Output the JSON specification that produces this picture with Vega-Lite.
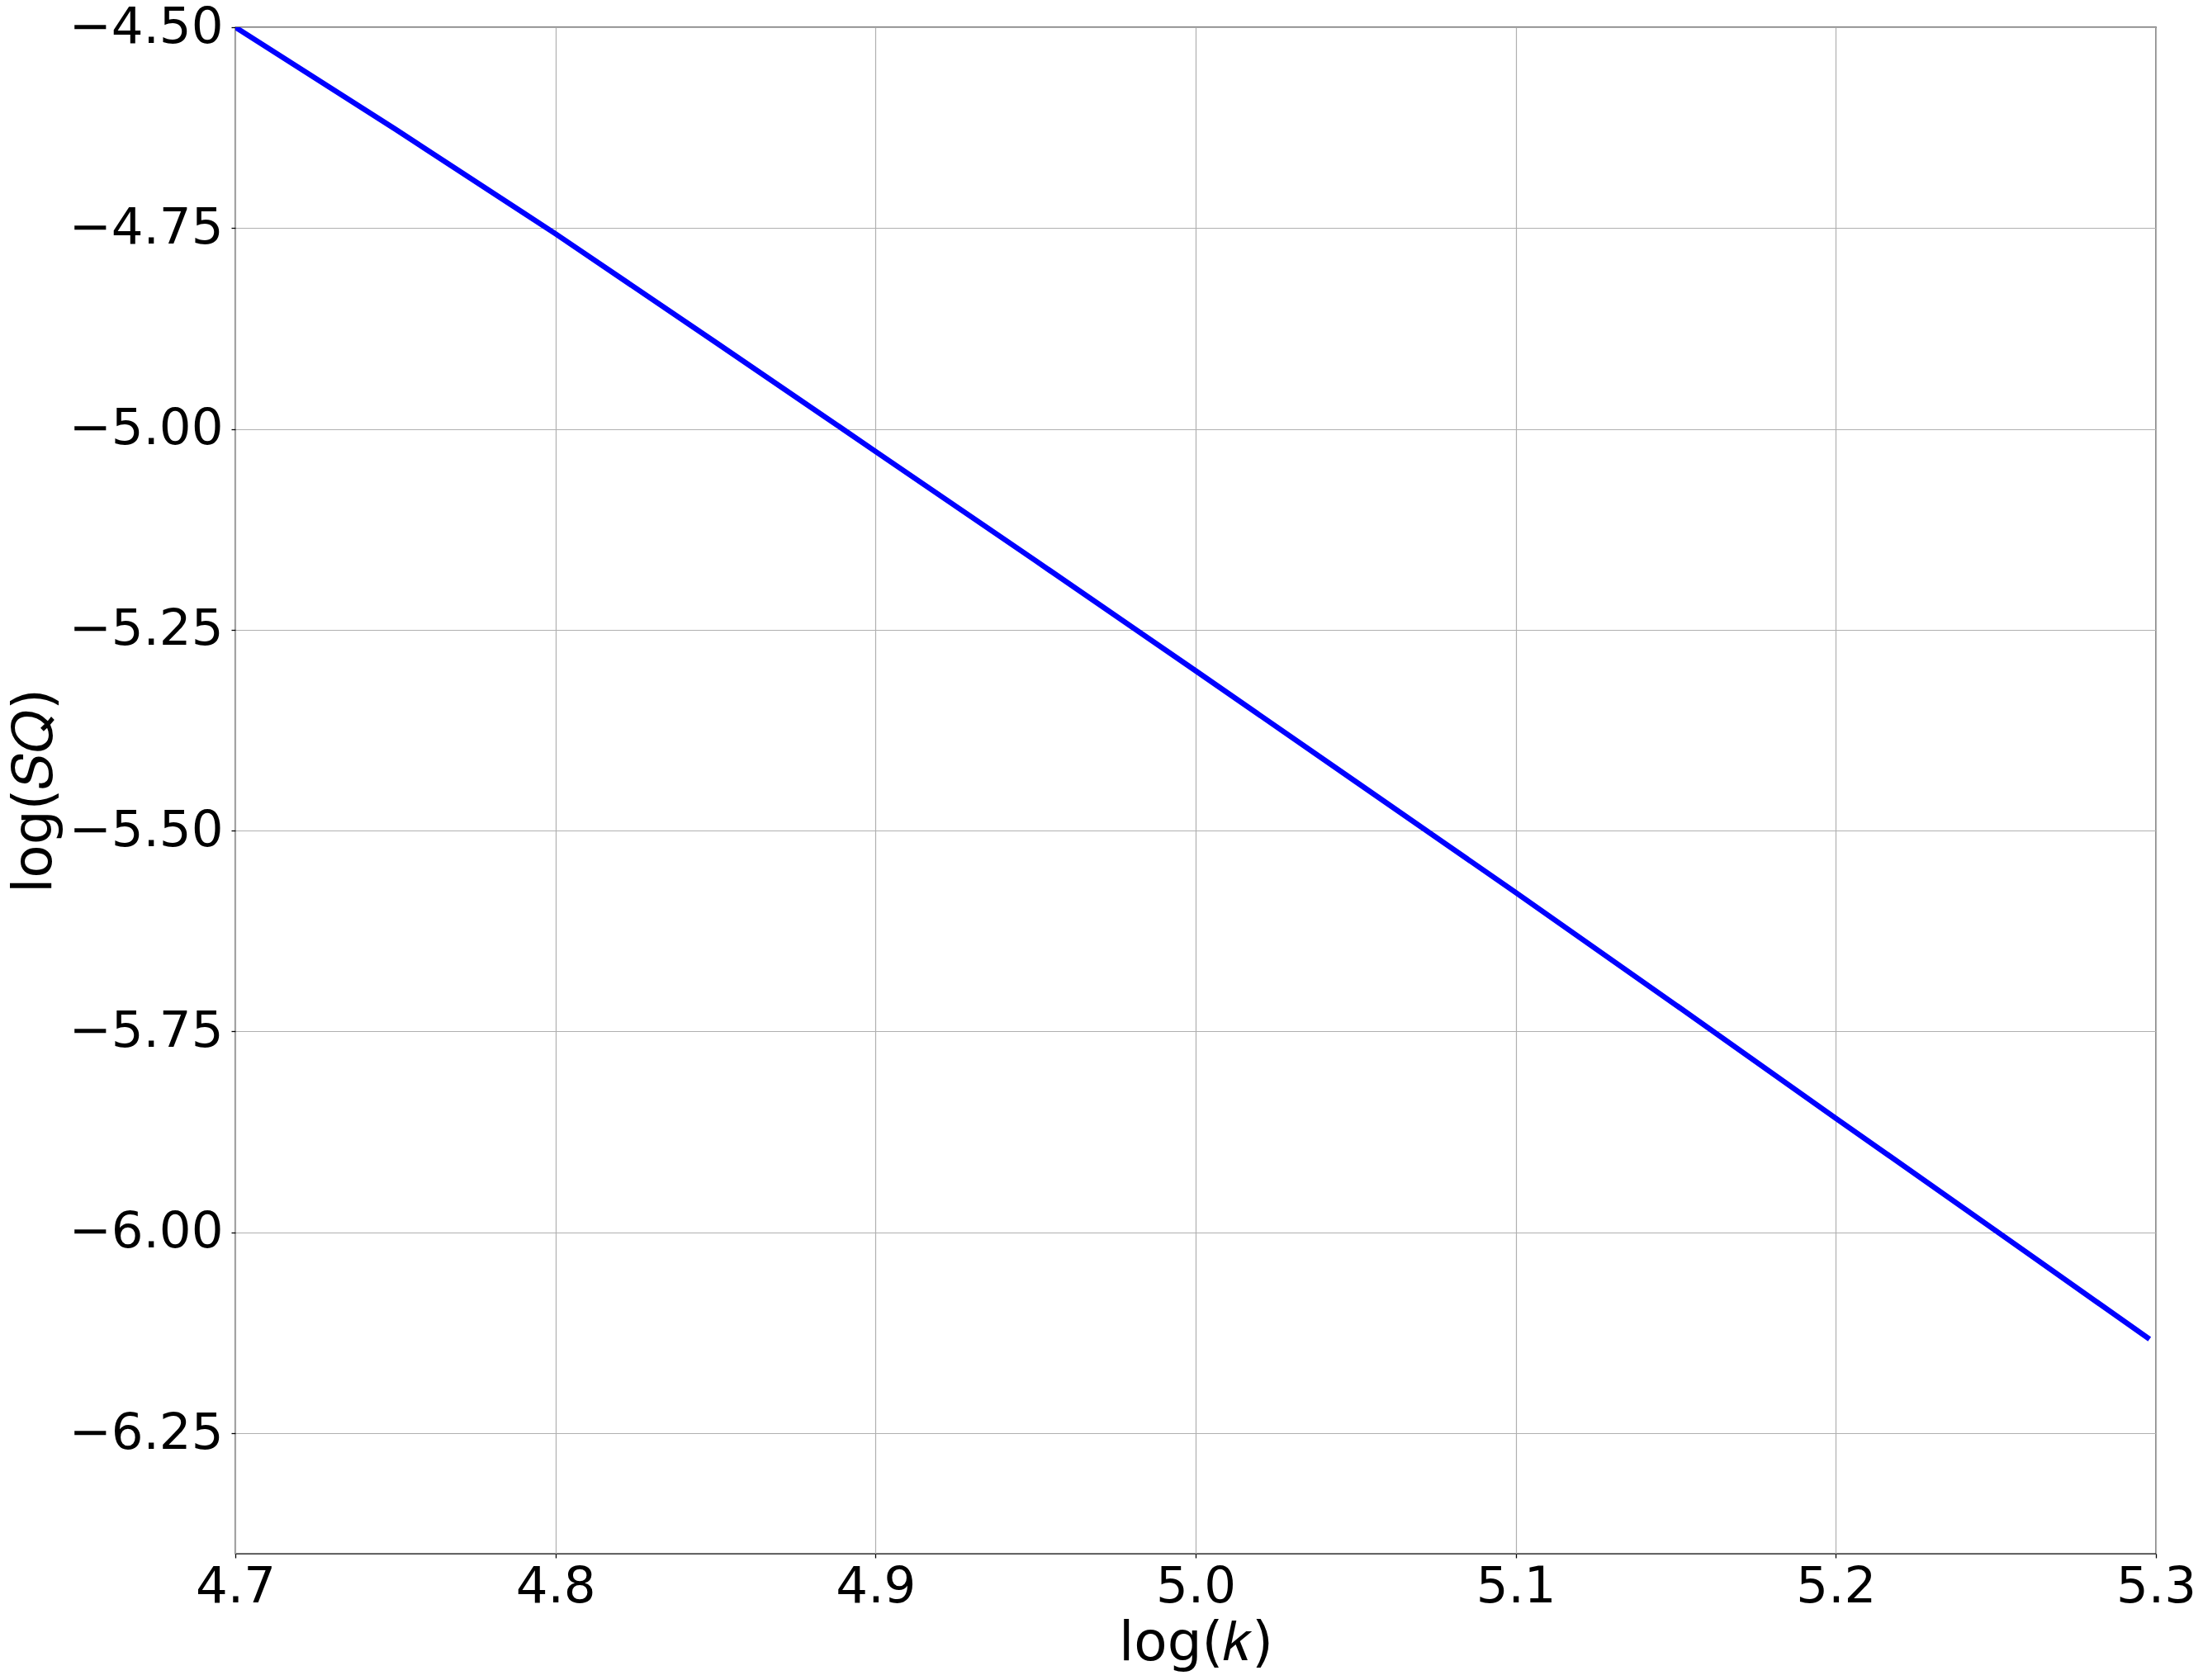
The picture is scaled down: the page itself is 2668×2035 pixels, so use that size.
{
  "$schema": "https://vega.github.io/schema/vega-lite/v6.json",
  "autosize": "none",
  "width": 2326,
  "height": 1849,
  "padding": {"left": 285, "top": 33, "right": 57, "bottom": 153},
  "background": "white",
  "config": {
    "view": {"stroke": "black", "strokeWidth": 1.3},
    "font": "DejaVu Sans"
  },
  "data": {
    "values": [
      {"logk": 4.70, "logSQ": -4.500},
      {"logk": 4.75, "logSQ": -4.627},
      {"logk": 4.80, "logSQ": -4.757},
      {"logk": 4.85, "logSQ": -4.892},
      {"logk": 4.90, "logSQ": -5.028},
      {"logk": 4.95, "logSQ": -5.164},
      {"logk": 5.00, "logSQ": -5.301},
      {"logk": 5.05, "logSQ": -5.439},
      {"logk": 5.10, "logSQ": -5.577},
      {"logk": 5.15, "logSQ": -5.717},
      {"logk": 5.20, "logSQ": -5.858},
      {"logk": 5.25, "logSQ": -5.998},
      {"logk": 5.298, "logSQ": -6.133}
    ]
  },
  "mark": {"type": "line", "color": "#0000ff", "strokeWidth": 6.5, "strokeCap": "butt", "clip": true},
  "encoding": {
    "x": {
      "field": "logk", "type": "quantitative",
      "scale": {"domain": [4.7, 5.3], "nice": false, "zero": false},
      "axis": {
        "title": "log(𝑘)",
        "values": [4.7, 4.8, 4.9, 5.0, 5.1, 5.2, 5.3],
        "format": ".1f",
        "labelFontSize": 61, "titleFontSize": 66,
        "labelFont": "DejaVu Sans", "titleFont": "DejaVu Sans",
        "titleFontWeight": "normal",
        "labelColor": "black", "titleColor": "black",
        "tickSize": 5, "tickColor": "black", "tickWidth": 1.3,
        "domain": false,
        "labelPadding": 5, "titlePadding": 6,
        "labelFlush": false, "labelOverlap": false, "labelLimit": 0,
        "grid": true, "gridColor": "#b0b0b0", "gridWidth": 1.2
      }
    },
    "y": {
      "field": "logSQ", "type": "quantitative",
      "scale": {"domain": [-6.4, -4.5], "nice": false, "zero": false},
      "axis": {
        "title": "log(𝑆𝑄)",
        "values": [-6.25, -6.0, -5.75, -5.5, -5.25, -5.0, -4.75, -4.5],
        "format": ".2f",
        "labelFontSize": 61, "titleFontSize": 66,
        "labelFont": "DejaVu Sans", "titleFont": "DejaVu Sans",
        "titleFontWeight": "normal",
        "labelColor": "black", "titleColor": "black",
        "tickSize": 5, "tickColor": "black", "tickWidth": 1.3,
        "domain": false,
        "labelPadding": 10, "titlePadding": 10,
        "labelFlush": false, "labelOverlap": false, "labelLimit": 0,
        "grid": true, "gridColor": "#b0b0b0", "gridWidth": 1.2
      }
    }
  }
}
